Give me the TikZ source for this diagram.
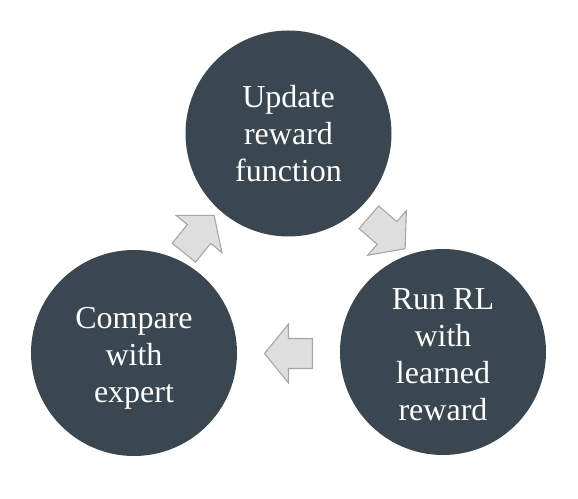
\documentclass[tikz,border=0pt]{standalone}
\usepackage{fontspec}
\setmainfont{Liberation Serif}
\usepackage{tikz}
\usetikzlibrary{positioning}
\definecolor{slate}{HTML}{3A4650}
\definecolor{arrowfill}{HTML}{DEDEDE}
\definecolor{arrowline}{HTML}{A6A6A6}

\begin{document}
\begin{tikzpicture}[
      x=1pt, y=1pt,
      stage/.style={circle, fill=slate, minimum size=206pt, inner sep=0pt,
                    text=white, align=center, font=\fontsize{32}{37}\selectfont},
      flow/.style={fill=arrowfill, draw=arrowline, line width=1.1pt, line join=miter}
    ]
      \useasboundingbox (0,0) rectangle (578,498);
      \node[stage] (update) at (288.5,364.5) {Update\\reward\\function};
      \node[stage] (compare) at (134,145) {\raisebox{-5pt}[\height][\depth]{\parbox{150pt}{\centering Compare\\with\\expert}}};
      \node[stage] (runrl) at (443,146) {\raisebox{-3pt}[\height][\depth]{\parbox{150pt}{\centering Run RL\\with\\learned\\reward}}};
      % block arrows between the stages
      \foreach \cx/\cy/\ang in {199/264/51, 387/265/-41, 288.5/144.5/180} {
        \draw[flow, shift={(\cx,\cy)}, rotate=\ang]
          (-24,-15) -- (0,-15) -- (0,-29.5) -- (24,0) -- (0,29.5) -- (0,15) -- (-24,15) -- cycle;
      }
    \end{tikzpicture}
\end{document}
